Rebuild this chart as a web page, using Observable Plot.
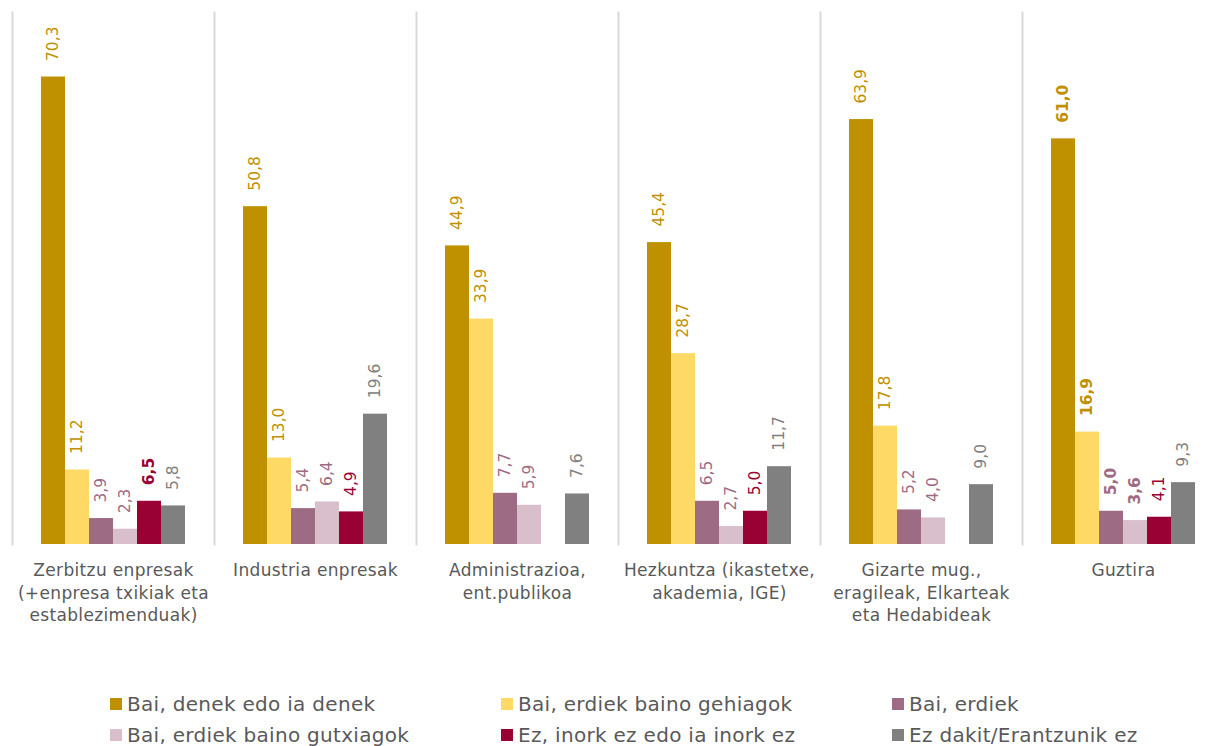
<!DOCTYPE html>
<html>
<head>
<meta charset="utf-8">
<script src="https://cdn.jsdelivr.net/npm/d3@7"></script>
<script src="https://cdn.jsdelivr.net/npm/@observablehq/plot@0.6"></script>
<style>
  html, body { margin: 0; padding: 0; background: #fff; overflow: hidden; }
  #wrap { position: relative; width: 1212px; height: 746px; font-family: "DejaVu Sans", sans-serif; }
  #chart { position: absolute; left: 0; top: 0; }
  .leg { position: absolute; display: flex; align-items: center; color: #595959; font-size: 20px; letter-spacing: 0.3px; white-space: nowrap; }
  .sw { width: 12px; height: 12px; margin-right: 5px; flex: none; }
</style>
</head>
<body>
<div id="wrap"><div id="chart"></div><div id="legend"></div></div>
<script>
// ---- data ----
const categories = ["Zerbitzu enpresak", "Industria enpresak", "Administrazioa", "Hezkuntza", "Gizarte mug.", "Guztira"];
const categoryLabels = [
  "Zerbitzu enpresak\n(+enpresa txikiak eta\nestablezimenduak)",
  "Industria enpresak",
  "Administrazioa,\nent.publikoa",
  "Hezkuntza (ikastetxe,\nakademia, IGE)",
  "Gizarte mug.,\neragileak, Elkarteak\neta Hedabideak",
  "Guztira"
];
const series = [
  "Bai, denek edo ia denek",
  "Bai, erdiek baino gehiagok",
  "Bai, erdiek",
  "Bai, erdiek baino gutxiagok",
  "Ez, inork ez edo ia inork ez",
  "Ez dakit/Erantzunik ez"
];
const baiDenek    = [70.3, 50.8, 44.9, 45.4, 63.9, 61.0];
const baiGehiago  = [11.2, 13.0, 33.9, 28.7, 17.8, 16.9];
const baiErdiek   = [3.9, 5.4, 7.7, 6.5, 5.2, 5.0];
const baiGutxiago = [2.3, 6.4, 5.9, 2.7, 4.0, 3.6];
const ezInork     = [6.5, 4.9, null, 5.0, null, 4.1];
const ezDakit     = [5.8, 19.6, 7.6, 11.7, 9.0, 9.3];
const seriesValues = [baiDenek, baiGehiago, baiErdiek, baiGutxiago, ezInork, ezDakit];
const barColors   = ["#BF9000", "#FFD966", "#9E6B85", "#D9BFCC", "#990033", "#808080"];
const labelColors = ["#BF9000", "#BF9000", "#9E6B85", "#9E6B85", "#990033", "#808080"];
// bold value labels: [category index, series index]
const boldLabels = [[0, 4], [5, 0], [5, 1], [5, 2], [5, 3]];

// ---- table ----
const data = [];
seriesValues.forEach((vals, si) => vals.forEach((v, ci) => {
  if (v != null) data.push({
    cat: categories[ci], series: series[si], si, value: v,
    bold: boldLabels.some(([c, s]) => c === ci && s === si)
  });
}));
const fmt = v => v.toFixed(1).replace(".", ",");

const textMarks = [];
series.forEach((s, si) => {
  [false, true].forEach(b => {
    const sub = data.filter(d => d.si === si && d.bold === b);
    if (sub.length) textMarks.push(Plot.text(sub, {
      fx: "cat", x: "series", y: "value", text: d => fmt(d.value),
      rotate: -90, textAnchor: "start", dy: -16,
      fill: labelColors[si], fontSize: 15.5, fontWeight: b ? "bold" : "normal"
    }));
  });
});

const chart = Plot.plot({
  width: 1212, height: 650,
  marginTop: 12, marginLeft: 12, marginRight: 0, marginBottom: 106,
  style: { fontFamily: "DejaVu Sans, sans-serif", background: "transparent", overflow: "visible" },
  fx: { domain: categories, range: [12, 1224], padding: 0, axis: null, label: null },
  x: { domain: series, paddingInner: 0, paddingOuter: 1.13, axis: null, label: null },
  y: { domain: [0, 80], axis: null },
  color: { domain: series, range: barColors },
  marks: [
    Plot.frame({ anchor: "left", stroke: "#D9D9D9", strokeWidth: 2 }),
    Plot.barY(data, { fx: "cat", x: "series", y: "value", fill: "series", inset: 0 }),
    ...textMarks,
    Plot.text(categories, {
      fx: d => d, text: (d, i) => categoryLabels[i],
      frameAnchor: "bottom", lineAnchor: "top", dy: 16, lineHeight: 1.31,
      fill: "#595959", fontSize: 17
    })
  ]
});
d3.select(chart).selectAll('g[fill="#595959"] text').style("letter-spacing", "0.35px");
document.getElementById("chart").appendChild(chart);

// ---- legend ----
const legend = document.getElementById("legend");
const legCols = [110, 501, 892];
const legRows = [704, 735];
series.forEach((s, i) => {
  const el = document.createElement("div");
  el.className = "leg";
  el.style.left = legCols[i % 3] + "px";
  el.style.top = (legRows[Math.floor(i / 3)] - 13) + "px";
  el.style.height = "26px";
  el.innerHTML = `<span class="sw" style="background:${barColors[i]}"></span><span>${s}</span>`;
  legend.appendChild(el);
});
</script>
</body>
</html>
